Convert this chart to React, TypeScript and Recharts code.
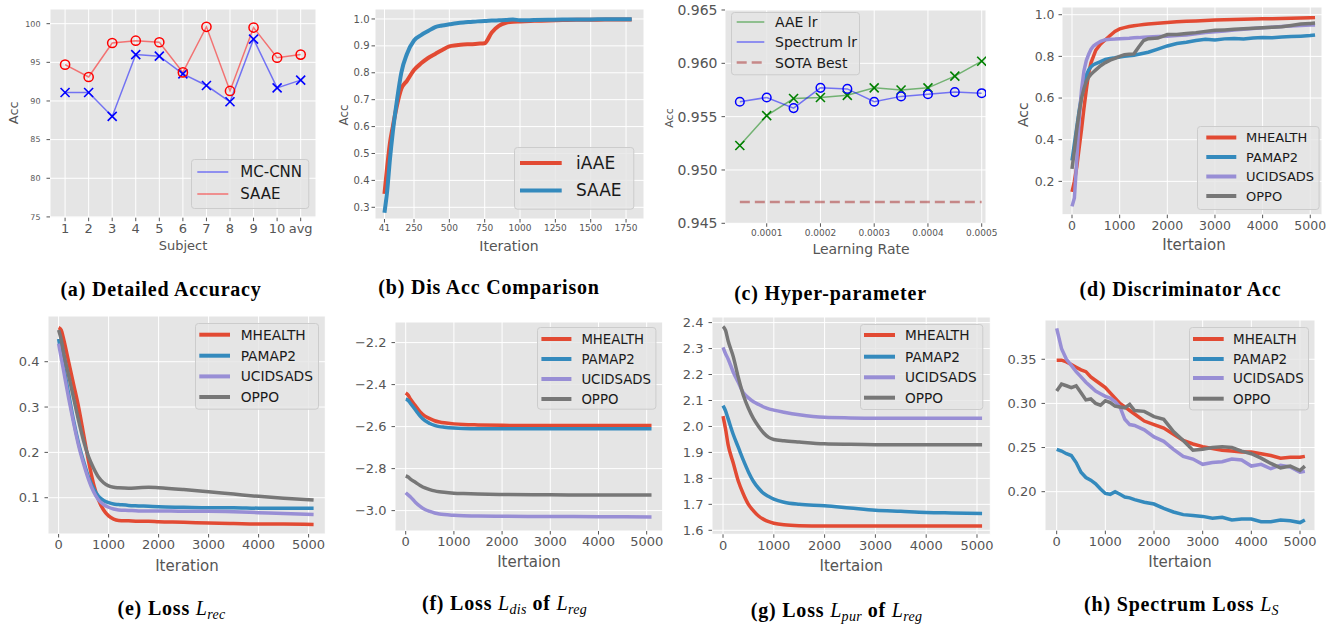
import React from 'react';
import { LineChart, Line, XAxis, YAxis, CartesianGrid, Legend } from 'recharts';

const C_RED = '#E24A33';
const C_BLUE = '#348ABD';
const C_PURPLE = '#988ED5';
const C_GREY = '#777777';

// (a) Detailed Accuracy
const SUBJECTS = ['1', '2', '3', '4', '5', '6', '7', '8', '9', '10', 'avg'];
const A_MCCNN = [91.1, 91.1, 88.0, 96.0, 95.8, 93.5, 92.0, 89.9, 98.0, 91.7, 92.7];
const A_SAAE = [94.7, 93.1, 97.5, 97.8, 97.6, 93.7, 99.6, 91.3, 99.5, 95.6, 96.0];

// (b) Dis Acc Comparison
const B_ITER = [41, 60, 80, 100, 130, 160, 200, 250, 300, 350, 400, 450, 500, 550, 600, 650, 700, 750, 800, 850, 900, 950, 1000, 1100, 1200, 1300, 1400, 1500, 1600, 1700, 1790];
const B_IAAE = [0.35, 0.45, 0.54, 0.6, 0.68, 0.74, 0.77, 0.81, 0.835, 0.855, 0.87, 0.885, 0.898, 0.902, 0.905, 0.906, 0.908, 0.91, 0.95, 0.974, 0.986, 0.99, 0.991, 0.993, 0.994, 0.996, 0.997, 0.997, 0.998, 0.998, 0.998];
const B_SAAE = [0.28, 0.36, 0.48, 0.58, 0.7, 0.8, 0.87, 0.92, 0.94, 0.955, 0.97, 0.976, 0.98, 0.984, 0.987, 0.989, 0.991, 0.992, 0.994, 0.995, 0.996, 0.998, 0.995, 0.996, 0.997, 0.998, 0.998, 0.998, 0.999, 0.999, 0.999];
const B_XTICKS = [41, 250, 500, 750, 1000, 1250, 1500, 1750];

// (c) Hyper-parameter
const C_LR = [0.00005, 0.0001, 0.00015, 0.0002, 0.00025, 0.0003, 0.00035, 0.0004, 0.00045, 0.0005];
const C_AAE = [0.9523, 0.9551, 0.9567, 0.9568, 0.9570, 0.9577, 0.9575, 0.9577, 0.9588, 0.9602];
const C_SPEC = [0.9564, 0.9568, 0.9558, 0.9577, 0.9576, 0.9564, 0.9569, 0.9571, 0.9573, 0.9572];
const C_SOTA = [0.947, 0.947, 0.947, 0.947, 0.947, 0.947, 0.947, 0.947, 0.947, 0.947];

// (d) Discriminator Acc
const D_ITER = [0, 50, 100, 150, 200, 250, 300, 350, 400, 450, 500, 600, 700, 800, 900, 1000, 1100, 1200, 1300, 1400, 1500, 1600, 1800, 2000, 2200, 2400, 2600, 2800, 3000, 3200, 3400, 3600, 3800, 4000, 4200, 4400, 4600, 4800, 5000, 5100];
const D_MH = [0.15, 0.2, 0.27, 0.36, 0.45, 0.55, 0.64, 0.72, 0.77, 0.8, 0.83, 0.86, 0.88, 0.9, 0.92, 0.932, 0.938, 0.943, 0.947, 0.95, 0.953, 0.955, 0.959, 0.963, 0.966, 0.968, 0.97, 0.972, 0.975, 0.976, 0.977, 0.978, 0.979, 0.981, 0.981, 0.982, 0.983, 0.984, 0.985, 0.986];
const D_PA = [0.3, 0.38, 0.46, 0.54, 0.61, 0.67, 0.71, 0.735, 0.75, 0.76, 0.765, 0.775, 0.785, 0.79, 0.793, 0.797, 0.8, 0.803, 0.805, 0.81, 0.815, 0.82, 0.835, 0.85, 0.862, 0.868, 0.876, 0.882, 0.879, 0.884, 0.886, 0.883, 0.888, 0.891, 0.889, 0.893, 0.895, 0.897, 0.9, 0.903];
const D_UC = [0.08, 0.12, 0.3, 0.5, 0.64, 0.73, 0.78, 0.81, 0.835, 0.85, 0.858, 0.872, 0.88, 0.882, 0.883, 0.885, 0.886, 0.887, 0.889, 0.89, 0.892, 0.893, 0.895, 0.897, 0.9, 0.903, 0.908, 0.914, 0.918, 0.922, 0.926, 0.93, 0.934, 0.937, 0.94, 0.943, 0.946, 0.948, 0.95, 0.951];
const D_OP = [0.26, 0.35, 0.45, 0.53, 0.6, 0.645, 0.68, 0.7, 0.715, 0.725, 0.735, 0.755, 0.77, 0.782, 0.79, 0.8, 0.808, 0.81, 0.812, 0.845, 0.875, 0.885, 0.888, 0.905, 0.905, 0.91, 0.914, 0.92, 0.925, 0.927, 0.93, 0.933, 0.935, 0.937, 0.94, 0.942, 0.948, 0.955, 0.958, 0.96];

// (e) Loss L_rec
const E_ITER = [0, 50, 100, 200, 300, 400, 500, 600, 700, 800, 900, 1000, 1100, 1200, 1400, 1600, 1800, 2000, 2500, 3000, 3500, 4000, 4500, 5100];
const E_MH = [0.475, 0.47, 0.45, 0.4, 0.35, 0.3, 0.24, 0.18, 0.13, 0.095, 0.073, 0.06, 0.053, 0.05, 0.049, 0.048, 0.048, 0.047, 0.046, 0.044, 0.043, 0.042, 0.042, 0.041];
const E_PA = [0.45, 0.42, 0.39, 0.33, 0.27, 0.22, 0.18, 0.145, 0.12, 0.103, 0.094, 0.089, 0.086, 0.085, 0.083, 0.082, 0.081, 0.08, 0.079, 0.078, 0.078, 0.077, 0.077, 0.077];
const E_UC = [0.44, 0.41, 0.38, 0.32, 0.265, 0.215, 0.175, 0.14, 0.113, 0.095, 0.085, 0.079, 0.075, 0.073, 0.072, 0.071, 0.071, 0.071, 0.07, 0.07, 0.069, 0.067, 0.065, 0.063];
const E_OP = [0.47, 0.45, 0.42, 0.37, 0.32, 0.27, 0.225, 0.19, 0.165, 0.145, 0.133, 0.126, 0.123, 0.122, 0.121, 0.122, 0.123, 0.122, 0.118, 0.113, 0.108, 0.103, 0.099, 0.095];

// (f) Loss L_dis of L_reg
const F_ITER = [0, 50, 100, 200, 300, 400, 500, 600, 700, 800, 1000, 1200, 1500, 2000, 3000, 4000, 5100];
const F_MH = [-2.44, -2.45, -2.47, -2.5, -2.53, -2.55, -2.562, -2.572, -2.578, -2.582, -2.587, -2.59, -2.592, -2.594, -2.595, -2.595, -2.595];
const F_PA = [-2.47, -2.475, -2.49, -2.52, -2.55, -2.572, -2.585, -2.594, -2.6, -2.603, -2.607, -2.609, -2.61, -2.61, -2.61, -2.61, -2.61];
const F_UC = [-2.915, -2.925, -2.935, -2.96, -2.98, -2.995, -3.004, -3.011, -3.016, -3.019, -3.022, -3.024, -3.026, -3.027, -3.028, -3.029, -3.03];
const F_OP = [-2.835, -2.84, -2.85, -2.865, -2.88, -2.892, -2.9, -2.906, -2.91, -2.913, -2.917, -2.919, -2.921, -2.923, -2.925, -2.926, -2.926];

// (g) Loss L_pur of L_reg
const G_ITER = [0, 50, 100, 200, 300, 400, 500, 600, 700, 800, 900, 1000, 1200, 1500, 2000, 2500, 3000, 3500, 4000, 4500, 5100];
const G_MH = [2.04, 1.99, 1.93, 1.86, 1.79, 1.74, 1.7, 1.675, 1.655, 1.642, 1.633, 1.627, 1.621, 1.618, 1.617, 1.617, 1.617, 1.617, 1.617, 1.617, 1.617];
const G_PA = [2.08, 2.06, 2.03, 1.97, 1.92, 1.87, 1.825, 1.788, 1.762, 1.742, 1.73, 1.72, 1.708, 1.7, 1.695, 1.686, 1.677, 1.673, 1.669, 1.667, 1.665];
const G_UC = [2.305, 2.28, 2.26, 2.21, 2.17, 2.13, 2.11, 2.095, 2.085, 2.075, 2.068, 2.063, 2.055, 2.045, 2.035, 2.033, 2.032, 2.032, 2.032, 2.032, 2.032];
const G_OP = [2.385, 2.37, 2.33, 2.27, 2.19, 2.12, 2.07, 2.03, 2.0, 1.975, 1.958, 1.95, 1.945, 1.94, 1.933, 1.931, 1.93, 1.93, 1.93, 1.93, 1.93];

// (h) Spectrum Loss L_S
const H_ITER = [0, 100, 200, 300, 400, 500, 600, 700, 800, 900, 1000, 1100, 1200, 1300, 1400, 1500, 1600, 1800, 2000, 2200, 2400, 2600, 2800, 3000, 3200, 3400, 3600, 3800, 4000, 4200, 4400, 4600, 4800, 5000, 5100];
const H_MH = [0.349, 0.349, 0.347, 0.344, 0.341, 0.338, 0.336, 0.33, 0.326, 0.322, 0.318, 0.312, 0.306, 0.3, 0.296, 0.292, 0.288, 0.28, 0.276, 0.272, 0.265, 0.258, 0.254, 0.251, 0.249, 0.247, 0.246, 0.245, 0.245, 0.243, 0.241, 0.238, 0.239, 0.239, 0.24];
const H_PA = [0.248, 0.246, 0.243, 0.241, 0.233, 0.222, 0.216, 0.213, 0.209, 0.203, 0.198, 0.197, 0.2, 0.197, 0.194, 0.193, 0.191, 0.188, 0.186, 0.181, 0.177, 0.174, 0.173, 0.172, 0.17, 0.171, 0.168, 0.169, 0.169, 0.166, 0.166, 0.168, 0.167, 0.165, 0.168];
const H_UC = [0.385, 0.362, 0.35, 0.343, 0.336, 0.33, 0.324, 0.319, 0.314, 0.311, 0.308, 0.306, 0.302, 0.296, 0.282, 0.276, 0.275, 0.27, 0.262, 0.257, 0.248, 0.24, 0.237, 0.231, 0.233, 0.234, 0.237, 0.236, 0.229, 0.231, 0.226, 0.23, 0.228, 0.222, 0.223];
const H_OP = [0.314, 0.322, 0.32, 0.318, 0.32, 0.312, 0.304, 0.305, 0.3, 0.298, 0.303, 0.301, 0.297, 0.296, 0.295, 0.299, 0.292, 0.291, 0.285, 0.282, 0.268, 0.258, 0.247, 0.248, 0.25, 0.251, 0.25, 0.246, 0.243, 0.238, 0.232, 0.227, 0.229, 0.224, 0.229];

const ITER_TICKS = [0, 1000, 2000, 3000, 4000, 5000];
const DATASETS = ['MHEALTH', 'PAMAP2', 'UCIDSADS', 'OPPO'];
const DS_COLORS = [C_RED, C_BLUE, C_PURPLE, C_GREY];

const FONT = '"DejaVu Sans", Verdana, sans-serif';
const TICK_COLOR = '#555555';

function rows(xKey: string, xs: number[], cols: Record<string, number[]>) {
  return xs.map((x, i) => {
    const r: any = { [xKey]: x };
    for (const k of Object.keys(cols)) r[k] = cols[k][i];
    return r;
  });
}

const fmt = (d: number) => (v: number) => (v < 0 ? '\u2212' + Math.abs(v).toFixed(d) : v.toFixed(d));
const fmtInt = (v: number) => String(v);

const xDot = (color: string, s: number, sw: number) => (props: any) => {
  const { cx, cy, index } = props;
  if (cx == null || cy == null) return <g key={`xd${index}`} />;
  return (
    <g key={`xd${index}`}>
      <line x1={cx - s} y1={cy - s} x2={cx + s} y2={cy + s} stroke={color} strokeWidth={sw} />
      <line x1={cx - s} y1={cy + s} x2={cx + s} y2={cy - s} stroke={color} strokeWidth={sw} />
    </g>
  );
};
const oDot = (color: string, r: number, sw: number) => (props: any) => {
  const { cx, cy, index } = props;
  if (cx == null || cy == null) return <g key={`od${index}`} />;
  return <circle key={`od${index}`} cx={cx} cy={cy} r={r} fill="none" stroke={color} strokeWidth={sw} />;
};

type SeriesDef = {
  key: string;
  name: string;
  color: string;
  width: number;
  opacity?: number;
  dash?: string;
  dot?: any;
  curve?: 'linear' | 'monotone';
};
type LegendDef = { x: number; y: number; w: number; h: number; lx1: number; lx2: number; tx: number; ys: number[]; font: number };
type AxisLabel = { text: string; x: number; y: number; size: number };
type PanelDef = {
  L: number; T: number; R: number; B: number;
  xKey: string;
  xDomain: [number, number]; xTicks: number[]; xFmt: (v: number) => string; xFont: number;
  yDomain: [number, number]; yTicks: number[]; yFmt: (v: number) => string; yFont: number;
  yTickMargin: number;
  xLabel: AxisLabel; yLabel?: AxisLabel;
  series: SeriesDef[];
  data: any[];
  legend: LegendDef;
};

function dsSeries(keys: string[], width: number): SeriesDef[] {
  return keys.map((k, i) => ({ key: k, name: DATASETS[i], color: DS_COLORS[i], width, curve: 'monotone' }));
}

const PANELS: PanelDef[] = [
  {
    L: 50, T: 9.3, R: 316, B: 218, xKey: 'i',
    xDomain: [-0.64, 10.65], xTicks: SUBJECTS.map((_, i) => i), xFmt: (v: number) => SUBJECTS[v] ?? '', xFont: 13,
    yDomain: [74.9, 101.9], yTicks: [75, 80, 85, 90, 95, 100], yFmt: fmtInt, yFont: 8, yTickMargin: 6,
    xLabel: { text: 'Subject', x: 183, y: 246, size: 13 }, yLabel: { text: 'Acc', x: 14, y: 113, size: 13 },
    series: [
      { key: 'mc', name: 'MC-CNN', color: '#0000FF', width: 1.5, opacity: 0.5, dot: xDot('#0000FF', 4.5, 1.6), curve: 'linear' },
      { key: 'saae', name: 'SAAE', color: '#FF0000', width: 1.5, opacity: 0.5, dot: oDot('#FF0000', 4.6, 1.5), curve: 'linear' },
    ],
    data: rows('i', SUBJECTS.map((_, i) => i), { mc: A_MCCNN, saae: A_SAAE }),
    legend: { x: 190.7, y: 159, w: 118.3, h: 50, lx1: 197, lx2: 228, tx: 240, ys: [172, 194], font: 15 },
  },
  {
    L: 375, T: 9, R: 644, B: 219, xKey: 'it',
    xDomain: [-26, 1877], xTicks: B_XTICKS, xFmt: fmtInt, xFont: 9,
    yDomain: [0.2565, 1.037], yTicks: [0.3, 0.4, 0.5, 0.6, 0.7, 0.8, 0.9, 1.0], yFmt: fmt(1), yFont: 10, yTickMargin: 2,
    xLabel: { text: 'Iteration', x: 509, y: 245.7, size: 14 }, yLabel: { text: 'Acc', x: 344, y: 115, size: 12 },
    series: [
      { key: 'iaae', name: 'iAAE', color: C_RED, width: 4, curve: 'monotone' },
      { key: 'saae', name: 'SAAE', color: C_BLUE, width: 4, curve: 'monotone' },
    ],
    data: rows('it', B_ITER, { iaae: B_IAAE, saae: B_SAAE }),
    legend: { x: 514, y: 147.3, w: 120.3, h: 62.7, lx1: 520, lx2: 561.7, tx: 576, ys: [163.3, 190.7], font: 17 },
  },
  {
    L: 725, T: 10, R: 986, B: 223.3, xKey: 'lr',
    xDomain: [0.0000224, 0.000508], xTicks: [0.0001, 0.0002, 0.0003, 0.0004, 0.0005], xFmt: fmt(4), xFont: 9,
    yDomain: [0.945, 0.965], yTicks: [0.945, 0.95, 0.955, 0.96, 0.965], yFmt: fmt(3), yFont: 14, yTickMargin: 4,
    xLabel: { text: 'Learning Rate', x: 861, y: 249, size: 14 }, yLabel: { text: 'Acc', x: 670, y: 118, size: 11 },
    series: [
      { key: 'aae', name: 'AAE lr', color: '#008000', width: 1.5, opacity: 0.5, dot: xDot('#008000', 4.5, 1.6), curve: 'linear' },
      { key: 'spec', name: 'Spectrum lr', color: '#0000FF', width: 1.5, opacity: 0.5, dot: oDot('#0000FF', 4.3, 1.5), curve: 'linear' },
      { key: 'sota', name: 'SOTA Best', color: '#A52A2A', width: 2.5, opacity: 0.5, dash: '10 5', curve: 'linear' },
    ],
    data: rows('lr', C_LR, { aae: C_AAE, spec: C_SPEC, sota: C_SOTA }),
    legend: { x: 731, y: 11.7, w: 129, h: 63.3, lx1: 736.7, lx2: 764.3, tx: 775, ys: [21.7, 41.7, 62.3], font: 14 },
  },
  {
    L: 1062, T: 7.3, R: 1322, B: 215, xKey: 'it',
    xDomain: [-210, 5246], xTicks: ITER_TICKS, xFmt: fmtInt, xFont: 12.5,
    yDomain: [0.04, 1.037], yTicks: [0.2, 0.4, 0.6, 0.8, 1.0], yFmt: fmt(1), yFont: 12.5, yTickMargin: 4,
    xLabel: { text: 'Itertaion', x: 1194, y: 245.7, size: 15 }, yLabel: { text: 'Acc', x: 1023, y: 115, size: 14 },
    series: dsSeries(['mh', 'pa', 'uc', 'op'], 3.5).map((s) => ({ ...s, curve: 'linear' as const })),
    data: rows('it', D_ITER, { mh: D_MH, pa: D_PA, uc: D_UC, op: D_OP }),
    legend: { x: 1196.7, y: 126, w: 122.6, h: 84, lx1: 1206, lx2: 1236, tx: 1245.7, ys: [137.5, 157, 176.5, 196], font: 13 },
  },
  {
    L: 47.7, T: 316, R: 325, B: 534, xKey: 'it',
    xDomain: [-212, 5334], xTicks: ITER_TICKS, xFmt: fmtInt, xFont: 13,
    yDomain: [0.02, 0.5008], yTicks: [0.1, 0.2, 0.3, 0.4], yFmt: fmt(1), yFont: 13, yTickMargin: 5,
    xLabel: { text: 'Iteration', x: 186.7, y: 565.7, size: 15 },
    series: dsSeries(['mh', 'pa', 'uc', 'op'], 3.5),
    data: rows('it', E_ITER, { mh: E_MH, pa: E_PA, uc: E_UC, op: E_OP }),
    legend: { x: 195, y: 323.3, w: 124, h: 86.7, lx1: 199.3, lx2: 230, tx: 240.7, ys: [335, 356, 376.7, 397.3], font: 13.8 },
  },
  {
    L: 395, T: 321.7, R: 662.7, B: 530.7, xKey: 'it',
    xDomain: [-222, 5332], xTicks: ITER_TICKS, xFmt: fmtInt, xFont: 13,
    yDomain: [-3.097, -2.102], yTicks: [-3.0, -2.8, -2.6, -2.4, -2.2], yFmt: fmt(1), yFont: 13, yTickMargin: 5,
    xLabel: { text: 'Itertaion', x: 529, y: 561.7, size: 15 },
    series: dsSeries(['mh', 'pa', 'uc', 'op'], 3.5),
    data: rows('it', F_ITER, { mh: F_MH, pa: F_PA, uc: F_UC, op: F_OP }),
    legend: { x: 537.3, y: 327.3, w: 119.4, h: 82.7, lx1: 541.7, lx2: 571.7, tx: 581.7, ys: [339.3, 359.3, 379.3, 399.3], font: 13.3 },
  },
  {
    L: 711.7, T: 316.7, R: 990, B: 534, xKey: 'it',
    xDomain: [-217, 5262], xTicks: ITER_TICKS, xFmt: fmtInt, xFont: 13,
    yDomain: [1.5846, 2.4216], yTicks: [1.6, 1.7, 1.8, 1.9, 2.0, 2.1, 2.2, 2.3, 2.4], yFmt: fmt(1), yFont: 13, yTickMargin: 5,
    xLabel: { text: 'Itertaion', x: 851, y: 565.7, size: 15 },
    series: dsSeries(['mh', 'pa', 'uc', 'op'], 3.5),
    data: rows('it', G_ITER, { mh: G_MH, pa: G_PA, uc: G_UC, op: G_OP }),
    legend: { x: 860, y: 324, w: 123.3, h: 86, lx1: 864, lx2: 895, tx: 905, ys: [335, 356.7, 377.3, 397.7], font: 13.7 },
  },
  {
    L: 1045, T: 320, R: 1315, B: 530.7, xKey: 'it',
    xDomain: [-240, 5308], xTicks: ITER_TICKS, xFmt: fmtInt, xFont: 13,
    yDomain: [0.1558, 0.3945], yTicks: [0.2, 0.25, 0.3, 0.35], yFmt: fmt(2), yFont: 13, yTickMargin: 5,
    xLabel: { text: 'Itertaion', x: 1180, y: 562.3, size: 15 },
    series: dsSeries(['mh', 'pa', 'uc', 'op'], 3.5).map((s) => ({ ...s, curve: 'linear' as const })),
    data: rows('it', H_ITER, { mh: H_MH, pa: H_PA, uc: H_UC, op: H_OP }),
    legend: { x: 1189.3, y: 327.3, w: 120, h: 83.4, lx1: 1193.3, lx2: 1224, tx: 1233.3, ys: [339.3, 359.3, 378.3, 399], font: 13.5 },
  },
];

const CAPTIONS: { cx: number; cy: number; parts: (string | { L: string; sub: string })[] }[] = [
  { cx: 161, cy: 289, parts: ['(a) Detailed Accuracy'] },
  { cx: 489, cy: 287, parts: ['(b) Dis Acc Comparison'] },
  { cx: 830.5, cy: 293, parts: ['(c) Hyper-parameter'] },
  { cx: 1180.5, cy: 289, parts: ['(d) Discriminator Acc'] },
  { cx: 171.5, cy: 608, parts: ['(e) Loss ', { L: 'L', sub: 'rec' }] },
  { cx: 504.5, cy: 603, parts: ['(f) Loss ', { L: 'L', sub: 'dis' }, ' of ', { L: 'L', sub: 'reg' }] },
  { cx: 836.5, cy: 610, parts: ['(g) Loss ', { L: 'L', sub: 'pur' }, ' of ', { L: 'L', sub: 'reg' }] },
  { cx: 1181.5, cy: 604, parts: ['(h) Spectrum Loss ', { L: 'L', sub: 'S' }] },
];

function LegendBox({ p }: { p: PanelDef }) {
  const lg = p.legend;
  return (
    <svg width={lg.w} height={lg.h} style={{ display: 'block', overflow: 'visible' }}>
      <rect x={0.5} y={0.5} width={lg.w - 1} height={lg.h - 1} rx={3} ry={3} fill="#E5E5E5" fillOpacity={0.8} stroke="#CCCCCC" strokeWidth={1} />
      {p.series.map((s, i) => (
        <g key={s.key}>
          <line
            x1={lg.lx1 - lg.x}
            x2={lg.lx2 - lg.x}
            y1={lg.ys[i] - lg.y}
            y2={lg.ys[i] - lg.y}
            stroke={s.color}
            strokeWidth={s.width >= 3 ? 4 : s.width}
            strokeOpacity={s.opacity ?? 1}
            strokeDasharray={s.dash}
          />
          <text
            x={lg.tx - lg.x}
            y={lg.ys[i] - lg.y}
            dominantBaseline="central"
            fontFamily={FONT}
            fontSize={lg.font}
            fill="#1a1a1a"
          >
            {s.name}
          </text>
        </g>
      ))}
    </svg>
  );
}

function Panel({ p }: { p: PanelDef }) {
  const YW = 75;
  const XH = 50;
  const MT = 10;
  const MR = 22;
  const left = p.L - YW;
  const top = p.T - MT;
  const width = p.R - p.L + YW + MR;
  const height = p.B - p.T + MT + XH;
  const xl = p.xLabel;
  const yl = p.yLabel;
  return (
    <div style={{ position: 'absolute', left, top, width, height }}>
      <LineChart width={width} height={height} data={p.data} margin={{ top: MT, right: MR, bottom: 0, left: 0 }}>
        <CartesianGrid stroke="#FFFFFF" strokeWidth={1} fill="#E5E5E5" fillOpacity={1} />
        <XAxis
          dataKey={p.xKey}
          type="number"
          domain={p.xDomain}
          ticks={p.xTicks}
          tickFormatter={p.xFmt}
          allowDataOverflow
          interval={0}
          height={XH}
          axisLine={false}
          tickLine={{ stroke: TICK_COLOR }}
          tickSize={3.5}
          tickMargin={2.5}
          tick={{ fill: TICK_COLOR, fontSize: p.xFont, fontFamily: FONT }}
          label={{
            value: xl.text,
            content: () => (
              <text x={xl.x - left} y={xl.y - top} textAnchor="middle" dominantBaseline="central" fontFamily={FONT} fontSize={xl.size} fill={TICK_COLOR}>
                {xl.text}
              </text>
            ),
          }}
        />
        <YAxis
          type="number"
          domain={p.yDomain}
          ticks={p.yTicks}
          tickFormatter={p.yFmt}
          allowDataOverflow
          interval={0}
          width={YW}
          axisLine={false}
          tickLine={{ stroke: TICK_COLOR }}
          tickSize={3.5}
          tickMargin={p.yTickMargin}
          tick={{ fill: TICK_COLOR, fontSize: p.yFont, fontFamily: FONT }}
          label={
            yl
              ? {
                  value: yl.text,
                  content: () => (
                    <text
                      x={yl.x - left}
                      y={yl.y - top}
                      textAnchor="middle"
                      dominantBaseline="central"
                      fontFamily={FONT}
                      fontSize={yl.size}
                      fill={TICK_COLOR}
                      transform={`rotate(-90 ${yl.x - left} ${yl.y - top})`}
                    >
                      {yl.text}
                    </text>
                  ),
                }
              : undefined
          }
        />
        {p.series.map((s) => (
          <Line
            key={s.key}
            dataKey={s.key}
            name={s.name}
            type={s.curve ?? 'linear'}
            stroke={s.color}
            strokeWidth={s.width}
            strokeOpacity={s.opacity ?? 1}
            strokeDasharray={s.dash}
            dot={s.dot ?? false}
            activeDot={false}
            isAnimationActive={false}
          />
        ))}
        <Legend
          layout="vertical"
          align="center"
          verticalAlign="middle"
          wrapperStyle={{ left: p.legend.x - left, top: p.legend.y - top, width: p.legend.w, height: p.legend.h }}
          content={() => <LegendBox p={p} />}
        />
      </LineChart>
    </div>
  );
}

export default function App() {
  return (
    <div style={{ position: 'absolute', left: 0, top: 0, width: 1336, height: 626, background: '#FFFFFF', overflow: 'hidden' }}>
      {PANELS.map((p, i) => (
        <Panel key={i} p={p} />
      ))}
      {CAPTIONS.map((c, i) => (
        <div
          key={i}
          style={{
            position: 'absolute',
            left: c.cx - 200,
            top: c.cy - 13,
            width: 400,
            height: 26,
            lineHeight: '26px',
            textAlign: 'center',
            fontFamily: '"Liberation Serif", "DejaVu Serif", serif',
            fontWeight: 'bold',
            fontSize: 20,
            letterSpacing: 0.8,
            color: '#000',
            whiteSpace: 'nowrap',
          }}
        >
          {c.parts.map((pt, j) =>
            typeof pt === 'string' ? (
              <span key={j}>{pt}</span>
            ) : (
              <span key={j} style={{ fontStyle: 'italic', fontWeight: 'normal', letterSpacing: 0.3 }}>
                {pt.L}
                <sub style={{ fontSize: 14, verticalAlign: 'baseline', position: 'relative', top: 4 }}>{pt.sub}</sub>
              </span>
            )
          )}
        </div>
      ))}
    </div>
  );
}
